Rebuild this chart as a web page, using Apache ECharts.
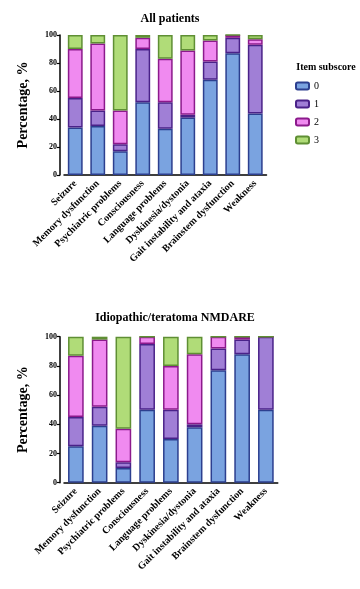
<!DOCTYPE html>
<html>
<head>
<meta charset="utf-8">
<script src="https://cdn.jsdelivr.net/npm/echarts@6/dist/echarts.min.js"></script>
<style>
  html, body { margin: 0; padding: 0; background: #fff; }
  #chart { width: 360px; height: 589px; }
</style>
</head>
<body>
<div id="chart"></div>
<script>
// Item subscore distribution per symptom domain
const categories = ['Seizure', 'Memory dysfunction', 'Psychiatric problems', 'Consciousness',
  'Language problems', 'Dyskinesia/dystonia', 'Gait instability and ataxia',
  'Brainstem dysfunction', 'Weakness'];
const subscores = ['0', '1', '2', '3'];
const yTicks = [0, 20, 40, 60, 80, 100];

// All patients
const all0 = [34, 35, 17, 52, 33, 41, 68, 87, 44];
const all1 = [21, 11, 5, 38, 19, 2, 13, 11, 49];
const all2 = [35, 48, 24, 8, 31, 46, 15, 2, 4];
const all3 = [10, 6, 54, 2, 17, 11, 4, 0, 3];

// Idiopathic/teratoma NMDARE
const idio0 = [25, 39, 10, 50, 30, 38, 77, 88, 50];
const idio1 = [20, 13, 4, 45, 20, 2, 15, 10, 50];
const idio2 = [42, 46, 23, 5, 30, 48, 8, 2, 0];
const idio3 = [13, 2, 63, 0, 20, 12, 0, 0, 0];

const fills = ['#7aa3e0', '#a07fd6', '#f08af0', '#b0dc78'];
const borders = ['#2c3f8f', '#4a2289', '#8c1a8c', '#5f8f34'];
const serif = 'Liberation Serif';

const chart = echarts.init(document.getElementById('chart'));

function xAxisFor(gridIndex) {
  return {
    type: 'category',
    gridIndex: gridIndex,
    data: categories,
    axisLine: { lineStyle: { color: '#000', width: 1.5 } },
    axisTick: { alignWithLabel: true, length: 3, lineStyle: { color: '#000', width: 1.2 } },
    axisLabel: {
      rotate: 45, interval: 0, margin: 7,
      fontFamily: serif, fontWeight: 'bold', fontSize: 10, color: '#000'
    }
  };
}

function yAxisFor(gridIndex) {
  return {
    type: 'value',
    gridIndex: gridIndex,
    min: yTicks[0], max: yTicks[yTicks.length - 1], interval: 20,
    offset: 4,
    name: 'Percentage, %',
    nameLocation: 'middle',
    nameGap: 30,
    nameTextStyle: { fontFamily: serif, fontWeight: 'bold', fontSize: 14, color: '#000' },
    axisLine: { show: true, lineStyle: { color: '#000', width: 1.5 } },
    axisTick: { show: true, length: 3, lineStyle: { color: '#000', width: 1.2 } },
    axisLabel: { fontFamily: serif, fontWeight: 'bold', fontSize: 8, color: '#000', margin: 3 },
    splitLine: { show: false }
  };
}

const groups = [[all0, all1, all2, all3], [idio0, idio1, idio2, idio3]];
const series = [];
groups.forEach((g, gi) => {
  g.forEach((vals, si) => {
    series.push({
      name: subscores[si],
      type: 'bar',
      stack: 'grid' + gi,
      xAxisIndex: gi,
      yAxisIndex: gi,
      data: vals,
      barWidth: '66%',
      itemStyle: { color: fills[si], borderColor: borders[si], borderWidth: 1.5 }
    });
  });
});

chart.setOption({
  animation: false,
  textStyle: { fontFamily: serif },
  title: [
    { text: 'All patients', left: 165, top: 8, textAlign: 'center',
      textStyle: { fontFamily: serif, fontWeight: 'bold', fontSize: 12, color: '#000' } },
    { text: 'Idiopathic/teratoma NMDARE', left: 170, top: 307, textAlign: 'center',
      textStyle: { fontFamily: serif, fontWeight: 'bold', fontSize: 12, color: '#000' } },
    { text: 'Item subscore', left: 321, top: 57, textAlign: 'center',
      textStyle: { fontFamily: serif, fontWeight: 'bold', fontSize: 10, color: '#000' } }
  ],
  legend: {
    data: subscores,
    orient: 'vertical',
    left: 290,
    top: 76,
    itemWidth: 13,
    itemHeight: 7,
    itemGap: 8,
    textStyle: { fontFamily: serif, fontSize: 10, color: '#000' }
  },
  grid: [
    { left: 64, top: 35, width: 202.5, height: 140 },
    { left: 64, top: 336.7, width: 213.75, height: 146 }
  ],
  xAxis: [xAxisFor(0), xAxisFor(1)],
  yAxis: [yAxisFor(0), yAxisFor(1)],
  series: series
});
</script>
</body>
</html>
